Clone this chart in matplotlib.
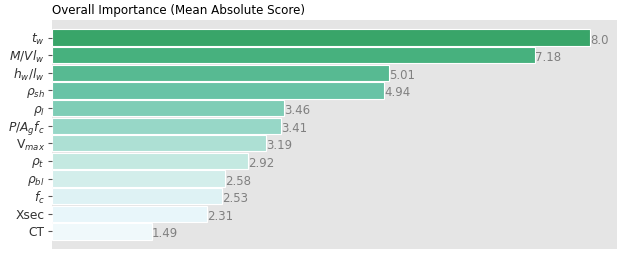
import numpy as np
import matplotlib
matplotlib.use("Agg")
import matplotlib.pyplot as plt

features = [r"$t_w$", r"$M/Vl_w$", r"$h_w/l_w$", r"$\rho_{sh}$", r"$\rho_l$",
            r"$P/A_gf_c$", r"V$_{max}$", r"$\rho_t$", r"$\rho_{bl}$", r"$f_c$",
            "Xsec", "CT"]
scores = [8.0, 7.18, 5.01, 4.94, 3.46, 3.41, 3.19, 2.92, 2.58, 2.53, 2.31, 1.49]

fig, ax = plt.subplots(figsize=(6.23, 2.56), dpi=100)
fig.subplots_adjust(left=0.083, right=0.990, top=0.922, bottom=0.027)

colors = plt.cm.BuGn(np.linspace(0.66, 0.05, len(scores)))
y = np.arange(len(scores))
ax.barh(y, scores, height=0.92, color=colors, edgecolor="white", linewidth=0.8)

for yi, v in zip(y, scores):
    ax.text(v, yi + 0.14, str(v), va="center", ha="left", fontsize=8.5, color="#808080")

ax.set_facecolor("#e5e5e5")
for s in ax.spines.values():
    s.set_visible(False)
ax.set_yticks(y)
ax.set_yticklabels(features, fontsize=8.8, color="#333333")
ax.tick_params(axis="y", length=3, color="#555555", pad=2)
ax.set_xticks([])
ax.set_xlim(0, 8.4)
ax.set_ylim(len(scores), -1)
ax.set_title("Overall Importance (Mean Absolute Score)", loc="left", fontsize=8.6, pad=4)

fig.savefig("out.png", dpi=100)
